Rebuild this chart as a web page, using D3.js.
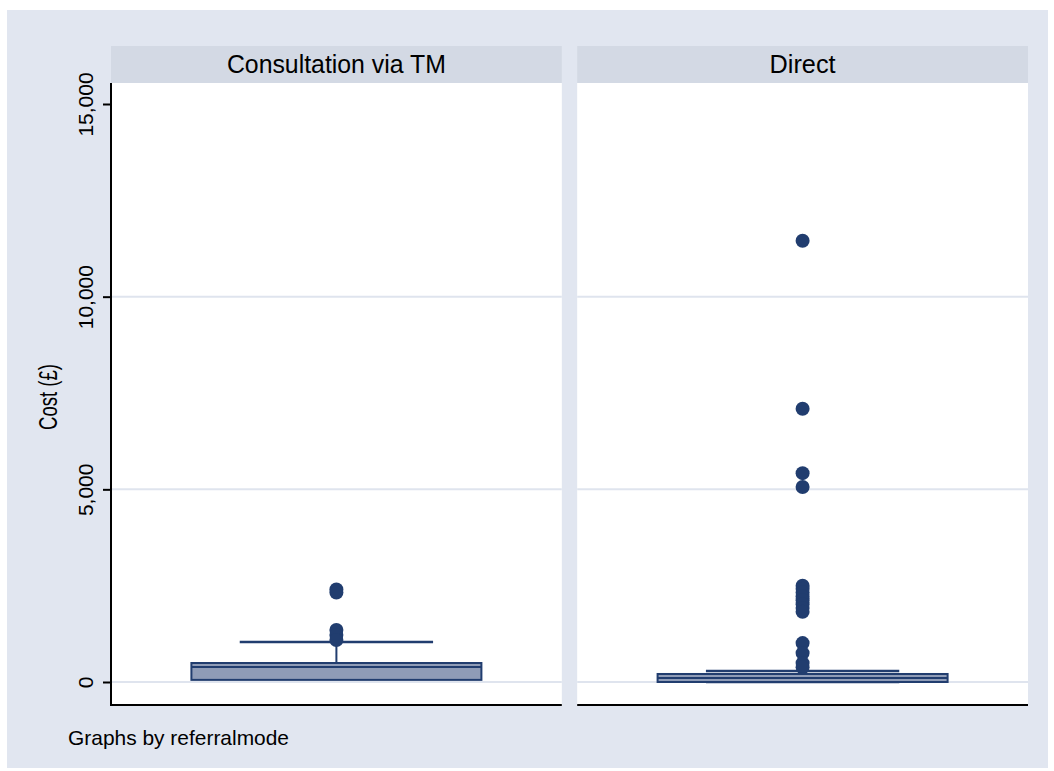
<!DOCTYPE html>
<html>
<head>
<meta charset="utf-8">
<script src="https://cdn.jsdelivr.net/npm/d3@7"></script>
<style>
	body { margin: 0; background: #fff; }
	text { font-family: "Liberation Sans", Arial, sans-serif; fill: #000; }
</style>
</head>
<body>
<svg width="1054" height="771"></svg>
<script>
// panels (by referralmode)
var modes = ["Consultation via TM", "Direct"];
var stripWidths = [219, 66]; // rendered label widths in the original

// box summaries, one entry per mode
var lowerAdj = [95, 0];
var q1 = [55, 0];
var median = [389, 104];
var q3 = [493, 208];
var upperAdj = [1038, 285];

// outside values
var outliersTM = [2400, 2320, 1350, 1220, 1090];
var outliersDirect = [11450, 7090, 5420, 5060, 2500, 2420, 2320, 2220, 2120, 2020, 1920, 1820,
	1010, 750, 490, 380];
var outliers = [outliersTM, outliersDirect];

var yTicks = [0, 5000, 10000, 15000];
var gridTicks = [0, 5000, 10000];

var navy = "#213d6f",
	boxFill = "#8f9cb7",
	gridCol = "#dfe4ee";

var svg = d3.select("svg");

// graph region
svg.append("rect")
	.attr("x", 7).attr("y", 10)
	.attr("width", 1041).attr("height", 758)
	.attr("fill", "#e1e6f0");

var plotTop = 83, plotBottom = 705;

var panel = d3.scaleBand()
	.domain(modes)
	.range([111, 1028])
	.paddingInner(0.033);

var y = d3.scaleLinear()
	.domain([0, 15000])
	.range([682, 104]);

var boxW = 290;

modes.forEach(function(m, i) {
	var x0 = panel(m), bw = panel.bandwidth();
	var g = svg.append("g").attr("transform", "translate(" + x0 + ",0)");
	var cx = bw / 2;

	// strip label
	g.append("rect")
		.attr("x", 0).attr("y", 46)
		.attr("width", bw).attr("height", plotTop - 46)
		.attr("fill", "#d3d9e4");
	g.append("text")
		.attr("x", cx).attr("y", 73)
		.attr("text-anchor", "middle")
		.attr("textLength", stripWidths[i])
		.attr("lengthAdjust", "spacingAndGlyphs")
		.style("font-size", "25px")
		.text(m);

	// plot region
	g.append("rect")
		.attr("x", 0).attr("y", plotTop)
		.attr("width", bw).attr("height", plotBottom - plotTop)
		.attr("fill", "#fff");

	g.selectAll(".grid")
		.data(gridTicks)
		.enter().append("line")
		.attr("class", "grid")
		.attr("x1", 0).attr("x2", bw)
		.attr("y1", function(d) { return y(d); })
		.attr("y2", function(d) { return y(d); })
		.attr("stroke", gridCol)
		.attr("stroke-width", 2);

	// whiskers
	g.append("line")
		.attr("x1", cx).attr("x2", cx)
		.attr("y1", y(q3[i])).attr("y2", y(upperAdj[i]))
		.attr("stroke", navy).attr("stroke-width", 2);
	g.append("line")
		.attr("x1", cx).attr("x2", cx)
		.attr("y1", y(q1[i])).attr("y2", y(lowerAdj[i]))
		.attr("stroke", navy).attr("stroke-width", 2);
	[upperAdj[i], lowerAdj[i]].forEach(function(v) {
		g.append("line")
			.attr("x1", cx - boxW / 3).attr("x2", cx + boxW / 3)
			.attr("y1", y(v)).attr("y2", y(v))
			.attr("stroke", navy).attr("stroke-width", 2.5);
	});

	// box
	g.append("rect")
		.attr("x", cx - boxW / 2)
		.attr("y", y(q3[i]))
		.attr("width", boxW)
		.attr("height", y(q1[i]) - y(q3[i]))
		.attr("fill", boxFill)
		.attr("stroke", navy)
		.attr("stroke-width", 2);
	g.append("line")
		.attr("x1", cx - boxW / 2).attr("x2", cx + boxW / 2)
		.attr("y1", y(median[i])).attr("y2", y(median[i]))
		.attr("stroke", navy).attr("stroke-width", 2);

	g.selectAll(".out")
		.data(outliers[i])
		.enter().append("circle")
		.attr("class", "out")
		.attr("cx", cx)
		.attr("cy", function(d) { return y(d); })
		.attr("r", 7)
		.attr("fill", navy);

	// x axis line (no ticks)
	g.append("line")
		.attr("x1", 0).attr("x2", bw)
		.attr("y1", plotBottom).attr("y2", plotBottom)
		.attr("stroke", "#000").attr("stroke-width", 2);

	if (i == 0) {
		var ax = g.append("g")
			.call(d3.axisLeft(y)
				.tickValues(yTicks)
				.tickSize(8)
				.tickFormat(d3.format(",")));
		ax.select(".domain").remove();
		ax.selectAll(".tick line").attr("stroke", "#000").attr("stroke-width", 2);
		ax.selectAll(".tick text")
			.attr("x", null).attr("dy", null)
			.attr("transform", "translate(-18,0) rotate(-90)")
			.attr("text-anchor", "middle")
			.style("font-size", "21px")
			.style("font-family", "Liberation Sans, Arial, sans-serif");
		g.append("line")
			.attr("x1", 0).attr("x2", 0)
			.attr("y1", plotTop).attr("y2", plotBottom + 1)
			.attr("stroke", "#000").attr("stroke-width", 2);
	}
});

// y title
svg.append("text")
	.attr("transform", "translate(57," + ((plotTop + plotBottom) / 2 + 3) + ") rotate(-90)")
	.attr("text-anchor", "middle")
	.attr("textLength", 66)
	.attr("lengthAdjust", "spacingAndGlyphs")
	.style("font-size", "25px")
	.text("Cost (£)");

// note
svg.append("text")
	.attr("x", 68).attr("y", 745)
	.attr("textLength", 221)
	.attr("lengthAdjust", "spacingAndGlyphs")
	.style("font-size", "21px")
	.text("Graphs by referralmode");
</script>
</body>
</html>
